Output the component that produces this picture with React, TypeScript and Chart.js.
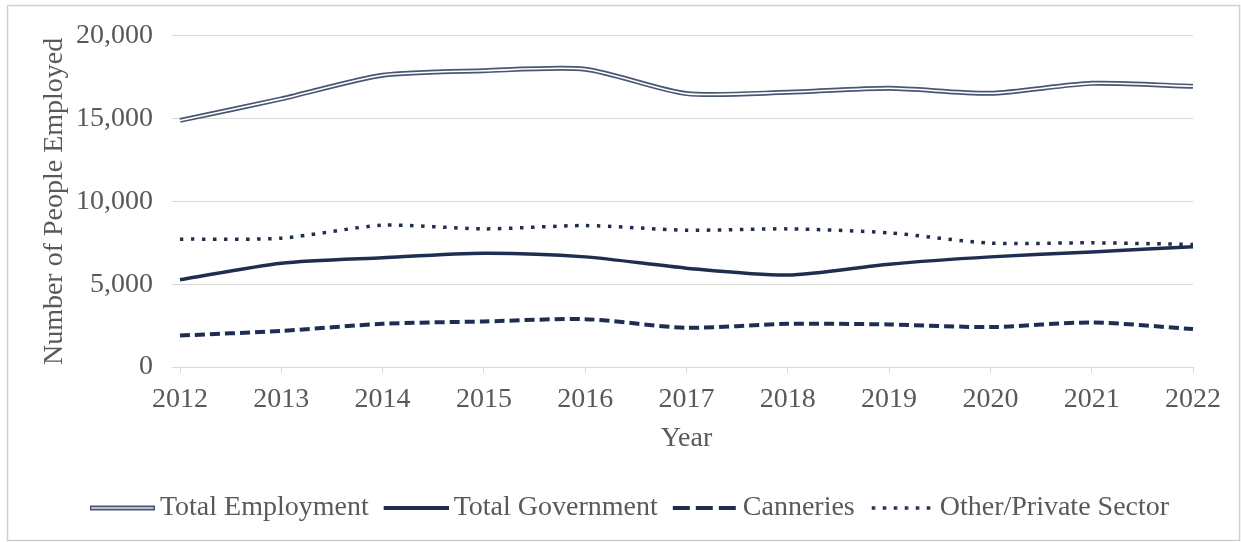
import React, { useEffect, useRef } from "react";
import { Chart, registerables } from "chart.js";

Chart.register(...registerables);

const years = ["2012", "2013", "2014", "2015", "2016", "2017", "2018", "2019", "2020", "2021", "2022"];
const totalEmployment = [14890, 16190, 17620, 17890, 17980, 16510, 16590, 16830, 16530, 17130, 16950];
const totalGovernment = [5270, 6270, 6600, 6870, 6650, 5970, 5550, 6210, 6650, 6950, 7260];
const canneries = [1900, 2180, 2610, 2750, 2890, 2370, 2610, 2570, 2410, 2690, 2290];
const otherPrivate = [7720, 7780, 8560, 8340, 8540, 8260, 8340, 8100, 7480, 7500, 7400];
const seriesNames = ["Total Employment", "Total Government", "Canneries", "Other/Private Sector"];
const yTicks = [0, 5000, 10000, 15000, 20000];

const NAVY = "#1f2e50";
const DOUBLE_OUTER = "#4b5672";
const TEXT = "#595959";
const GRID = "#d9d9d9";
const FONT = "'Liberation Serif', 'Times New Roman', serif";

function makeSymbol(kind: string): HTMLCanvasElement {
  const c = document.createElement("canvas");
  c.width = 74;
  c.height = 10;
  const g = c.getContext("2d")!;
  const x0 = 9;
  const x1 = 74;
  const y = 5;
  g.lineCap = "butt";
  if (kind === "double") {
    g.strokeStyle = DOUBLE_OUTER;
    g.lineWidth = 5;
    g.beginPath(); g.moveTo(x0, y); g.lineTo(x1, y); g.stroke();
    g.strokeStyle = "#dfe3ec";
    g.lineWidth = 1.6;
    g.beginPath(); g.moveTo(x0 + 1.5, y); g.lineTo(x1 - 1.5, y); g.stroke();
  } else if (kind === "solid") {
    g.strokeStyle = NAVY;
    g.lineWidth = 4;
    g.beginPath(); g.moveTo(x0, y); g.lineTo(x1, y); g.stroke();
  } else if (kind === "dash") {
    g.strokeStyle = NAVY;
    g.lineWidth = 4;
    g.setLineDash([17, 6]);
    g.beginPath(); g.moveTo(x0, y); g.lineTo(x1, y); g.stroke();
  } else {
    g.strokeStyle = NAVY;
    g.lineWidth = 3.5;
    g.setLineDash([3.5, 7.5]);
    g.beginPath(); g.moveTo(x0 + 2, y); g.lineTo(x1, y); g.stroke();
  }
  return c;
}

const framePlugin = {
  id: "frame",
  beforeDraw(chart: any) {
    const ctx = chart.ctx;
    ctx.save();
    ctx.fillStyle = "#ffffff";
    ctx.fillRect(0, 0, chart.width, chart.height);
    ctx.strokeStyle = "#d0d0d0";
    ctx.lineWidth = 1.5;
    ctx.strokeRect(7.5, 5.5, 1232, 535);
    ctx.restore();
  },
};

export default function App() {
  const ref = useRef<HTMLCanvasElement | null>(null);

  useEffect(() => {
    document.body.style.margin = "0";
    const canvas = ref.current;
    if (!canvas) return;
    const symbols = [makeSymbol("double"), makeSymbol("solid"), makeSymbol("dash"), makeSymbol("dot")];

    const chart = new Chart(canvas, {
      type: "line",
      data: {
        labels: years,
        datasets: [
          {
            label: "",
            data: totalEmployment,
            borderColor: "#ffffff",
            borderWidth: 1.6,
            pointRadius: 0,
            tension: 0.25,
            fill: false,
          },
          {
            label: seriesNames[0],
            data: totalEmployment,
            borderColor: DOUBLE_OUTER,
            borderWidth: 5,
            pointRadius: 0,
            tension: 0.25,
            fill: false,
          },
          {
            label: seriesNames[1],
            data: totalGovernment,
            borderColor: NAVY,
            borderWidth: 3.5,
            pointRadius: 0,
            tension: 0.25,
            fill: false,
          },
          {
            label: seriesNames[2],
            data: canneries,
            borderColor: NAVY,
            borderWidth: 4,
            borderDash: [10, 5],
            pointRadius: 0,
            tension: 0.25,
            fill: false,
          },
          {
            label: seriesNames[3],
            data: otherPrivate,
            borderColor: NAVY,
            borderWidth: 3.5,
            borderDash: [3.5, 7.5],
            pointRadius: 0,
            tension: 0.25,
            fill: false,
          },
        ],
      },
      options: {
        responsive: false,
        animation: false,
        layout: { padding: { left: 66, right: 48, top: 33, bottom: 10 } },
        plugins: {
          tooltip: { enabled: false },
          legend: {
            position: "bottom",
            align: "center",
            labels: {
              usePointStyle: true,
              pointStyleWidth: 56,
              padding: 15,
              color: TEXT,
              font: { family: FONT, size: 28 },
              generateLabels: (ch: any) => {
                const items = (Chart.defaults as any).plugins.legend.labels.generateLabels(ch);
                return items
                  .filter((it: any) => it.datasetIndex !== 0)
                  .map((it: any) => ({
                    ...it,
                    pointStyle: symbols[it.datasetIndex - 1],
                    lineWidth: 0,
                    fontColor: TEXT,
                  }));
              },
            },
          },
        },
        scales: {
          x: {
            type: "category",
            offset: false,
            grid: {
              drawOnChartArea: false,
              drawTicks: true,
              tickLength: 6,
              color: GRID,
            },
            border: { display: true, color: GRID, width: 1 },
            ticks: {
              color: TEXT,
              font: { family: FONT, size: 28 },
              padding: 10,
              maxRotation: 0,
              autoSkip: false,
            },
            title: {
              display: true,
              text: "Year",
              color: TEXT,
              font: { family: FONT, size: 28 },
              padding: { top: 0, bottom: 24 },
            },
            afterFit: (s: any) => {
              s.height = 112;
            },
          },
          y: {
            min: 0,
            max: 20000,
            afterBuildTicks: (s: any) => {
              s.ticks = yTicks.map((v) => ({ value: v }));
            },
            grid: {
              color: GRID,
              lineWidth: 1,
              drawTicks: true,
              tickLength: 8,
            },
            border: { display: false },
            ticks: {
              color: TEXT,
              font: { family: FONT, size: 28 },
              padding: 19,
              callback: (v: any) => Number(v).toLocaleString("en-US"),
            },
            title: {
              display: true,
              text: "Number of People Employed",
              color: TEXT,
              font: { family: FONT, size: 28 },
              padding: { top: -28, bottom: 0 },
            },
            afterFit: (s: any) => {
              s.width = 114;
            },
          },
        },
      },
      plugins: [framePlugin],
    });

    return () => chart.destroy();
  }, []);

  return (
    <div style={{ position: "absolute", left: 0, top: 0, width: 1241, height: 542 }}>
      <canvas ref={ref} width={1241} height={542} style={{ display: "block" }} />
    </div>
  );
}
